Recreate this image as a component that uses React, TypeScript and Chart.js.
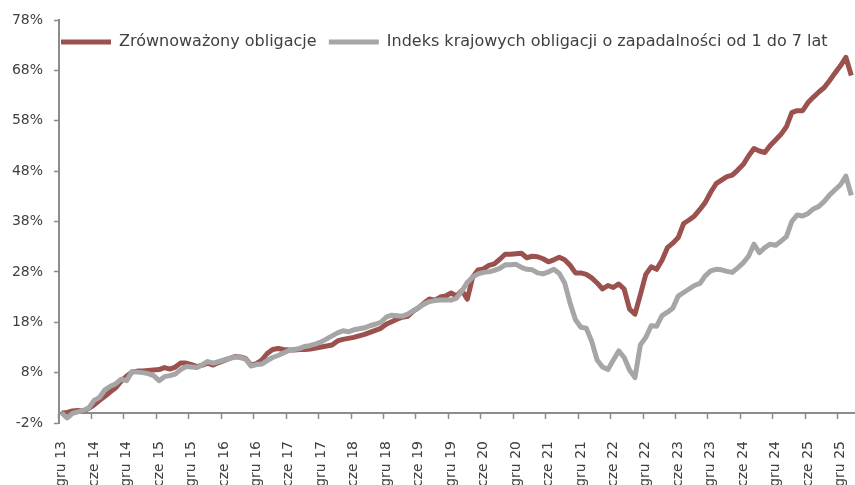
import React, { useEffect, useRef } from "react";
import { Chart, registerables } from "chart.js";

Chart.register(...registerables);

const MONTHS = ["sty", "lut", "mar", "kwi", "maj", "cze", "lip", "sie", "wrz", "paź", "lis", "gru"];
const START_MONTH = 11; // grudzień
const START_YEAR = 13;
const N_POINTS = 147;
const CATEGORIES: string[] = [];
for (let i = 0; i < N_POINTS; i++) {
  const m = (START_MONTH + i) % 12;
  const y = START_YEAR + Math.floor((START_MONTH + i) / 12);
  CATEGORIES.push(`${MONTHS[m]} ${y}`);
}

const SERIES_NAMES = ["Zrównoważony obligacje", "Indeks krajowych obligacji o zapadalności od 1 do 7 lat"];

const ZROWNOWAZONY = [
  0.0, 0.1, 0.4, 0.5, 0.4, 0.9, 1.6, 2.5, 3.3, 4.2, 5.0, 6.3,
  7.3, 8.1, 8.3, 8.3, 8.4, 8.5, 8.6, 9.0, 8.7, 9.1, 9.9, 9.9,
  9.6, 9.2, 9.5, 9.9, 9.5, 10.0, 10.4, 10.8, 11.2, 11.1, 10.8, 9.5,
  9.8, 10.5, 11.8, 12.6, 12.8, 12.6, 12.5, 12.5, 12.6, 12.6, 12.7, 12.9,
  13.1, 13.3, 13.5, 14.3, 14.6, 14.8, 15.0, 15.3, 15.6, 16.0, 16.4, 16.8,
  17.6, 18.1, 18.6, 19.0, 19.2, 20.2, 20.9, 21.8, 22.6, 22.4, 23.0, 23.2,
  23.8, 23.2, 24.3, 22.6, 27.0, 28.4, 28.6, 29.3, 29.6, 30.5, 31.5, 31.5,
  31.6, 31.7, 30.8, 31.1, 31.0, 30.6, 30.0, 30.4, 30.9, 30.4, 29.3, 27.8,
  27.8, 27.5, 26.8, 25.8, 24.6, 25.3, 24.9, 25.6, 24.6, 20.6, 19.6, 23.5,
  27.5, 29.0, 28.5, 30.3, 32.8, 33.7, 34.8, 37.6, 38.3, 39.1, 40.4, 41.8,
  43.8, 45.5, 46.2, 46.9, 47.2, 48.2, 49.3, 51.0, 52.5, 52.0, 51.7, 53.1,
  54.2, 55.3, 56.8, 59.6, 60.0, 60.0, 61.6, 62.7, 63.7, 64.6, 66.0, 67.5,
  68.9, 70.6, 67.0,
];

const INDEKS = [
  0.0, -1.0, -0.1, 0.2, 0.5, 1.0, 2.5, 3.1, 4.6, 5.3, 5.8, 6.7,
  6.4, 8.2, 8.1, 8.0, 7.8, 7.4, 6.4, 7.2, 7.4, 7.7, 8.6, 9.2,
  9.1, 9.0, 9.6, 10.2, 9.9, 10.2, 10.5, 10.8, 11.1, 11.0, 10.7, 9.3,
  9.6, 9.7, 10.4, 11.0, 11.4, 11.9, 12.4, 12.6, 12.8, 13.2, 13.4, 13.7,
  14.1, 14.7, 15.3, 15.9, 16.3, 16.1, 16.5, 16.7, 16.9, 17.3, 17.6, 18.0,
  19.0, 19.4, 19.3, 19.2, 19.6, 20.3, 20.9, 21.6, 22.1, 22.3, 22.4, 22.4,
  22.4, 22.8, 24.2, 25.9, 27.0, 27.6, 27.9, 28.0, 28.3, 28.7, 29.4, 29.4,
  29.5, 28.9, 28.5, 28.4, 27.8, 27.6, 28.0, 28.5, 27.7, 25.8, 21.8, 18.5,
  17.0, 16.8, 14.2, 10.5, 9.1, 8.6, 10.5, 12.3, 11.0, 8.5, 7.0, 13.5,
  15.0, 17.3, 17.2, 19.3, 20.0, 20.8, 23.2, 23.9, 24.6, 25.3, 25.7, 27.2,
  28.2, 28.5, 28.4, 28.1, 27.9, 28.8, 29.8, 31.1, 33.5, 31.8, 32.8, 33.5,
  33.3, 34.1, 35.0, 38.0, 39.3, 39.1, 39.6, 40.5, 41.0, 42.0, 43.3, 44.3,
  45.3, 47.0, 43.2,
];

const Y_MIN = -2;
const Y_MAX = 78;
const Y_STEP = 10;
const LABEL_EVERY = 6;

const RED = "#9B524E";
const GRAY = "#A6A6A6";
const AXIS = "#8C8C8C";
const TEXT = "#404040";
const FONT = "'DejaVu Sans', sans-serif";

// Keeps the legend from taking layout space so that it sits inside the plot area, on one row.
const legendInside = {
  id: "legendInside",
  beforeLayout(chart: any) {
    const lg = chart.legend;
    if (lg && !lg.__patched) {
      const fit = lg.fit.bind(lg);
      lg.fit = () => {
        lg.maxWidth = Math.max(lg.maxWidth || 0, 2000);
        fit();
        lg.__h = lg.height;
        lg.height = 0;
      };
      lg.__patched = true;
    }
  },
  afterLayout(chart: any) {
    const lg = chart.legend;
    if (lg && lg.__h != null) {
      lg.height = lg.__h;
      lg.bottom = lg.top + lg.__h;
    }
  },
};

export default function App() {
  const ref = useRef<HTMLCanvasElement | null>(null);

  useEffect(() => {
    if (!ref.current) return;
    const chart = new Chart(ref.current, {
      type: "line",
      data: {
        labels: CATEGORIES,
        datasets: [
          {
            label: SERIES_NAMES[0],
            data: ZROWNOWAZONY,
            borderColor: RED,
            backgroundColor: RED,
            borderWidth: 5,
            pointRadius: 0,
            tension: 0,
            borderJoinStyle: "round",
            order: 2,
          },
          {
            label: SERIES_NAMES[1],
            data: INDEKS,
            borderColor: GRAY,
            backgroundColor: GRAY,
            borderWidth: 5,
            pointRadius: 0,
            tension: 0,
            borderJoinStyle: "round",
            order: 1,
          },
        ],
      },
      options: {
        animation: false,
        responsive: true,
        maintainAspectRatio: false,
        layout: { padding: { top: 20, right: 1, bottom: 0, left: 0 } },
        plugins: {
          tooltip: { enabled: false },
          legend: {
            display: true,
            position: "top",
            align: "start",
            fullSize: false,
            title: { display: true, text: " ", font: { size: 12, lineHeight: 1 }, padding: 0 },
            labels: {
              boxWidth: 50,
              boxHeight: 5,
              padding: 2,
              color: TEXT,
              font: { family: FONT, size: 16 },
              sort: (a: any, b: any) => a.datasetIndex - b.datasetIndex,
              generateLabels: (c: any) =>
                (Chart.defaults.plugins.legend.labels.generateLabels as any)(c).map((it: any) => ({
                  ...it,
                  fillStyle: it.strokeStyle,
                  lineWidth: 0,
                  text: it.datasetIndex === 0 ? it.text + "  " : it.text,
                })),
            },
          },
        },
        scales: {
          x: {
            type: "category",
            position: "bottom",
            offset: true,
            grid: { display: false, drawTicks: false, offset: true },
            border: { display: false },
            afterFit: (s: any) => {
              s.height = 62;
              s.paddingLeft = 0;
              s.paddingRight = 0;
            },
            ticks: {
              autoSkip: false,
              minRotation: 90,
              maxRotation: 90,
              padding: 18,
              color: TEXT,
              font: { family: FONT, size: 14 },
              callback: (_v: any, i: number) => (i % LABEL_EVERY === 0 ? CATEGORIES[i] : ""),
            },
          },
          x2: {
            type: "category",
            axis: "x",
            position: { y: 0 },
            offset: true,
            grid: {
              offset: true,
              drawOnChartArea: false,
              drawTicks: true,
              tickLength: 5,
              tickWidth: 1.5,
              tickColor: (ctx: any) => (ctx.index != null && ctx.index % LABEL_EVERY === 0 ? AXIS : "rgba(0,0,0,0)"),
            },
            border: { display: true, color: AXIS, width: 2 },
            ticks: { display: false },
            afterFit: (s: any) => {
              s.height = 0;
              s.paddingLeft = 0;
              s.paddingRight = 0;
            },
          },
          y: {
            min: Y_MIN,
            max: Y_MAX,
            afterFit: (s: any) => {
              s.width = 59;
            },
            grid: { drawOnChartArea: false, drawTicks: true, tickLength: 5, tickColor: AXIS, tickWidth: 1.5 },
            border: { display: true, color: AXIS, width: 2 },
            ticks: {
              stepSize: Y_STEP,
              padding: 11,
              color: TEXT,
              font: { family: FONT, size: 14 },
              callback: (v: any) => `${v}%`,
            },
          },
        },
      },
      plugins: [legendInside],
    } as any);
    return () => chart.destroy();
  }, []);

  return (
    <div style={{ position: "fixed", left: 0, top: 0, width: 855, height: 485, background: "#fff" }}>
      <canvas ref={ref} />
    </div>
  );
}
